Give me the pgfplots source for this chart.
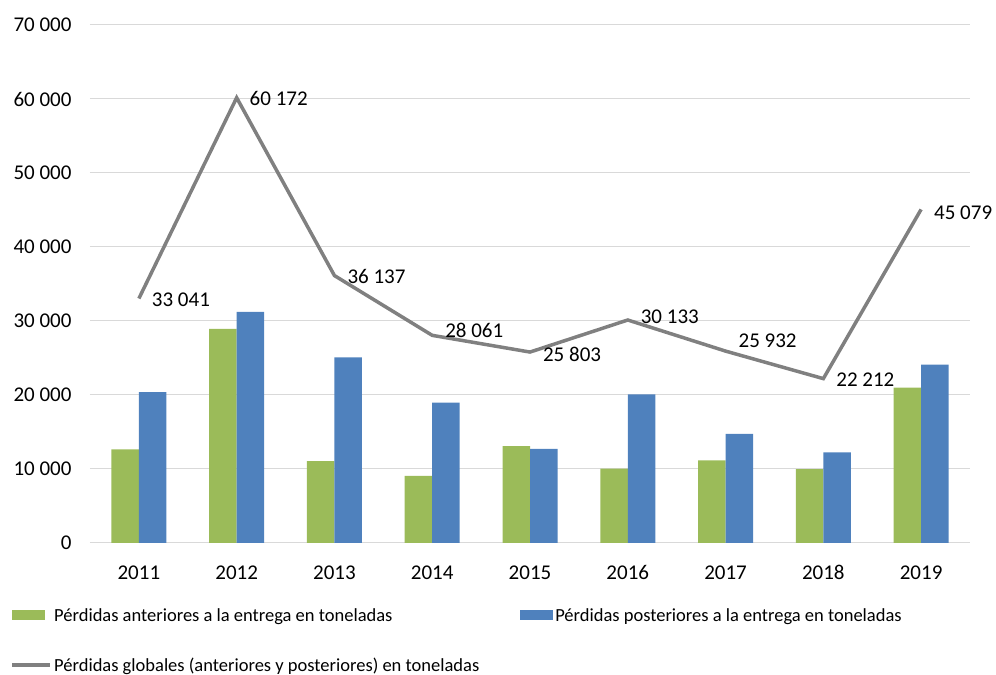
\documentclass[border=0pt]{standalone}
\usepackage{fontspec}
\setmainfont{Carlito}
\usepackage{pgfplots}
\usepackage{pgfplotstable}
\pgfplotsset{compat=1.18}

\definecolor{verde}{HTML}{9BBB59}
\definecolor{azul}{HTML}{4F81BD}
\definecolor{gris}{HTML}{808080}
\definecolor{rejilla}{HTML}{D9D9D9}

% x = year index (0 = 2011), dy = label shift in bp
\pgfplotstableread{
x antes despues total dy
0 12650 20391 33041 -1.5
1 28950 31222 60172 -1
2 11070 25067 36137 -1
3  9080 18981 28061 5
4 13100 12703 25803 -2
5 10050 20083 30133 3
6 11170 14762 25932 10
7  9980 12232 22212 -1
8 20980 24099 45079 -3
}\datos

\begin{document}
\begin{tikzpicture}
\begin{axis}[
  scale only axis,
  width=880bp, height=518bp,
  xmin=-0.5, xmax=8.5,
  ymin=0, ymax=70000,
  ytick={0,10000,...,70000},
  xtick={0,...,8},
  xticklabels={2011,2012,2013,2014,2015,2016,2017,2018,2019},
  scaled y ticks=false,
  /pgf/number format/assume math mode=true,
  /pgf/number format/1000 sep={\ },
  major tick length=0pt,
  axis line style={draw=none},
  ymajorgrids,
  grid style={rejilla, line width=1bp},
  tick label style={font=\fontsize{21bp}{25bp}\selectfont},
  yticklabel style={xshift=-15bp},
  xticklabel style={yshift=-19bp},
  legend columns=2,
  legend cell align=left,
  legend style={
    at={(axis description cs:0,0)}, anchor=north west,
    xshift=-80bp, yshift=-63bp,
    draw=none, fill=none, inner sep=0pt,
    font=\fontsize{18.5bp}{22bp}\selectfont,
    row sep=31bp,
    /tikz/every even column/.append style={column sep=39bp},
  },
]
\addplot[ybar, bar width=27.5bp, bar shift=-13.75bp, fill=verde, draw=none,
  legend image code/.code={\fill[verde] (0bp,-5bp) rectangle (33bp,5bp);}]
  table[x=x, y=antes] {\datos};
\addlegendentry{Pérdidas anteriores a la entrega en toneladas}
\addplot[ybar, bar width=27.5bp, bar shift=13.75bp, fill=azul, draw=none,
  legend image code/.code={\fill[azul] (0bp,-5bp) rectangle (33bp,5bp);}]
  table[x=x, y=despues] {\datos};
\addlegendentry{Pérdidas posteriores a la entrega en toneladas}
\addplot[sharp plot, gris, line width=3.5bp, mark=none,
  legend image code/.code={\draw[gris, line width=4bp] (0bp,0bp) -- (38bp,0bp);},
  point meta=y,
  visualization depends on={\thisrow{dy} \as \dy},
  nodes near coords={\pgfmathprintnumber[fixed, precision=0, 1000 sep={\ }, assume math mode=true]{\pgfplotspointmeta}},
  every node near coord/.append style={black, anchor=west, xshift=8bp, yshift=\dy*1bp,
    font=\fontsize{21bp}{25bp}\selectfont},
  ]
  table[x=x, y=total] {\datos};
\addlegendentry{Pérdidas globales (anteriores y posteriores) en toneladas}
\end{axis}
\pgfresetboundingbox
\path ([shift={(-90bp,-132bp)}]current axis.south west) rectangle ([shift={(26bp,25bp)}]current axis.north east);
\end{tikzpicture}
\end{document}
